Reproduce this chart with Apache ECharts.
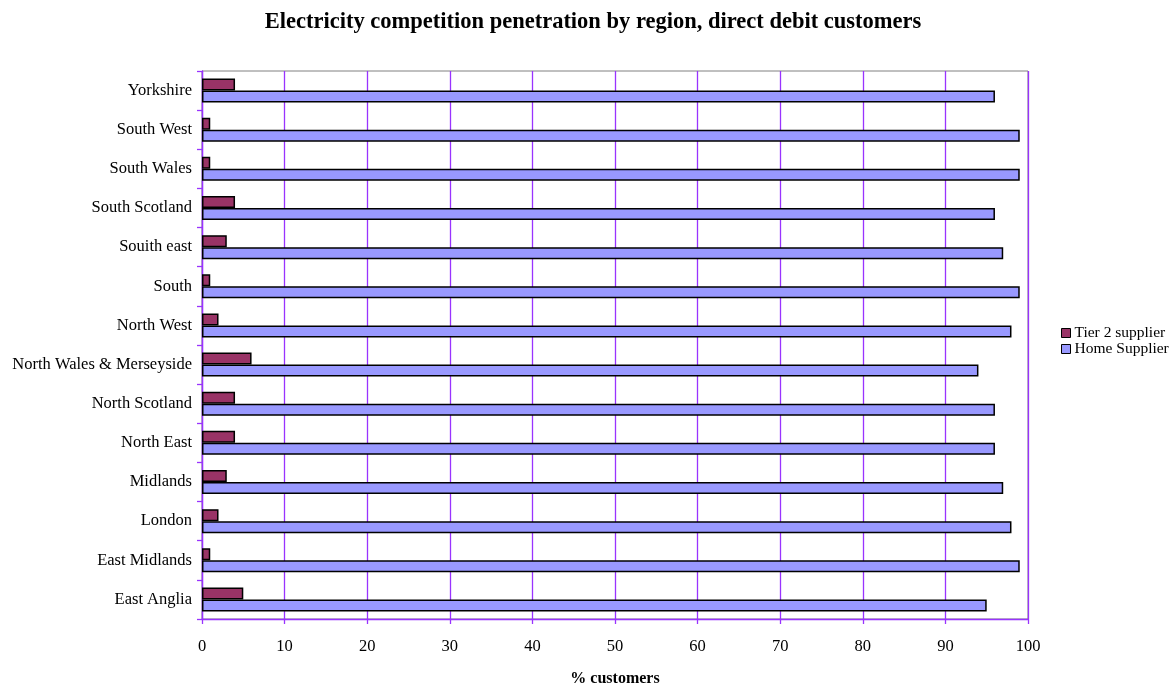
<!DOCTYPE html>
<html>
<head>
<meta charset="utf-8">
<title>Electricity competition penetration by region</title>
<script src="https://cdn.jsdelivr.net/npm/echarts@6/dist/echarts.min.js"></script>
<style>
  html, body { margin: 0; padding: 0; background: #ffffff; }
  #chart { width: 1176px; height: 688px; }
</style>
</head>
<body>
<div id="chart"></div>
<script>
// Regions, listed bottom to top as drawn on the category axis
const regions = [
  'East Anglia', 'East Midlands', 'London', 'Midlands', 'North East',
  'North Scotland', 'North Wales & Merseyside', 'North West', 'South',
  'Souith east', 'South Scotland', 'South Wales', 'South West', 'Yorkshire'
];
// Share of direct debit customers (%)
const tier2Supplier = [5, 1, 2, 3, 4, 4, 6, 2, 1, 3, 4, 1, 1, 4];
const homeSupplier  = [95, 99, 98, 97, 96, 96, 94, 98, 99, 97, 96, 99, 99, 96];
const xTicks = { min: 0, max: 100, interval: 10 };

const serif = '"Liberation Serif", "Times New Roman", serif';
const gridPurple = '#9933FF';

const chart = echarts.init(document.getElementById('chart'), null, { renderer: 'canvas' });
chart.setOption({
  animation: false,
  backgroundColor: '#ffffff',
  title: {
    text: 'Electricity competition penetration by region, direct debit customers',
    left: 588, top: 6, textAlign: 'center',
    textStyle: { fontFamily: serif, fontWeight: 'bold', fontSize: 22.5, color: '#000' }
  },
  legend: {
    data: ['Tier 2 supplier', 'Home Supplier'],
    orient: 'vertical', left: 1056, top: 320,
    itemWidth: 9, itemHeight: 9, itemGap: 0,
    icon: 'rect',
    textStyle: { fontFamily: serif, fontSize: 15.5, color: '#000', padding: [0, 0, 0, -1] },
    itemStyle: { borderColor: '#000', borderWidth: 1 }
  },
  grid: {
    left: 202, right: 148, top: 71, bottom: 69,
    outerBoundsMode: 'none', containLabel: false,
    show: true, borderColor: '#808080', borderWidth: 1, backgroundColor: '#ffffff'
  },
  xAxis: {
    type: 'value', min: xTicks.min, max: xTicks.max, interval: xTicks.interval,
    name: '% customers', nameLocation: 'middle', nameGap: 52,
    nameTextStyle: { fontFamily: serif, fontWeight: 'bold', fontSize: 16, color: '#000', verticalAlign: 'top' },
    axisLine: { show: true, lineStyle: { color: gridPurple, width: 1.3 } },
    axisTick: { show: true, length: 5, lineStyle: { color: gridPurple, width: 1.3 } },
    axisLabel: { margin: 19, fontFamily: serif, fontSize: 16.5, color: '#000' },
    splitLine: { show: true, lineStyle: { color: gridPurple, width: 1.3 } }
  },
  yAxis: {
    type: 'category', data: regions,
    axisLine: { show: true, lineStyle: { color: gridPurple, width: 1.3 } },
    axisTick: { show: true, length: 5, alignWithLabel: false, lineStyle: { color: gridPurple, width: 1.3 } },
    axisLabel: { margin: 10, fontFamily: serif, fontSize: 16.5, color: '#000' },
    splitLine: { show: false }
  },
  series: [
    {
      name: 'Tier 2 supplier', type: 'bar', data: tier2Supplier,
      barWidth: 12, barGap: '0%',
      itemStyle: { color: '#993366', borderColor: '#000', borderWidth: 1.5 }
    },
    {
      name: 'Home Supplier', type: 'bar', data: homeSupplier,
      barWidth: 12, barGap: '0%',
      itemStyle: { color: '#9999FF', borderColor: '#000', borderWidth: 1.5 }
    }
  ]
});
</script>
</body>
</html>
